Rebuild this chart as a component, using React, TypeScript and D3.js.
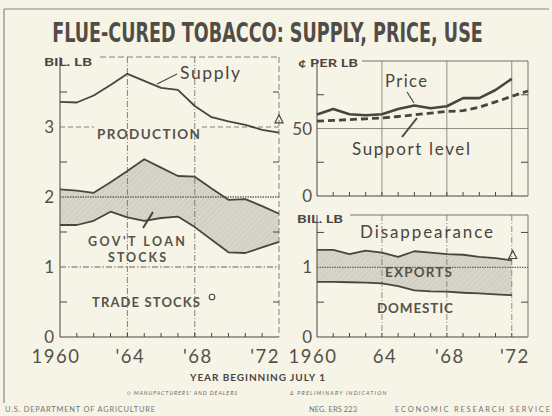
import React, { useLayoutEffect, useRef, useState } from 'react';
import * as d3 from 'd3';

// ---- data ----
const years = [1960, 1961, 1962, 1963, 1964, 1965, 1966, 1967, 1968, 1969, 1970, 1971, 1972, 1973];
const supply = [3.36, 3.35, 3.45, 3.6, 3.76, 3.66, 3.56, 3.53, 3.3, 3.14, 3.08, 3.03, 2.96, 2.92];
const totalStocks = [2.11, 2.09, 2.06, 2.21, 2.37, 2.54, 2.42, 2.3, 2.29, 2.12, 1.96, 1.97, 1.87, 1.76];
const tradeStocks = [1.6, 1.6, 1.66, 1.79, 1.71, 1.66, 1.7, 1.72, 1.57, 1.39, 1.21, 1.2, 1.28, 1.36];

const priceYears = [1960, 1961, 1962, 1963, 1964, 1965, 1966, 1967, 1968, 1969, 1970, 1971, 1972];
const price = [60.4, 64.5, 60.5, 59.8, 60.5, 64.5, 67, 65, 66.5, 72.5, 72.5, 78.5, 86.8];
const support = [55.4, 56, 56.6, 57.2, 57.8, 58.9, 60.1, 61.4, 62.6, 63.2, 65.8, 69.7, 73.8, 77.8];

const disappearance = [1.25, 1.25, 1.19, 1.24, 1.21, 1.15, 1.23, 1.21, 1.19, 1.18, 1.15, 1.13, 1.1];
const domestic = [0.79, 0.79, 0.785, 0.78, 0.77, 0.73, 0.67, 0.655, 0.65, 0.635, 0.625, 0.61, 0.6];

const leftYTicks = [0, 1, 2, 3];
const leftYMinor = [0.5, 1.5, 2.5, 3.5];
const priceYTicks = [0, 50];
const priceYMinor = [25, 75];
const useYTicks = [0, 1];
const useYMinor = [0.5, 1.5];
const gridYears = [1964, 1968, 1972];
const labelYears = [1960, 1964, 1968, 1972];
const leftXLabels = ['1960', "'64", "'68", "'72"];
const rightXLabels = ['1960', '64', "'68", "'72"];
const minorYears = [1961, 1962, 1963, 1964, 1965, 1966, 1967, 1968, 1969, 1970, 1971, 1972];

const TITLE = 'FLUE-CURED TOBACCO: SUPPLY, PRICE, USE';
const INK = '#4a4440';
const GRID = '#77726c';
const FONT = "Lato, 'Open Sans', 'DejaVu Sans', sans-serif";

export default function App() {
  const titleRef = useRef<SVGTextElement>(null);
  const [titleScale, setTitleScale] = useState(1);
  useLayoutEffect(() => {
    if (titleRef.current) {
      const w = titleRef.current.getComputedTextLength();
      if (w > 0) setTitleScale(431 / w);
    }
  }, []);

  const xL = d3.scaleLinear().domain([1960, 1973]).range([60, 279]);
  const yL = d3.scaleLinear().domain([0, 4]).range([337, 57]);
  const xR = d3.scaleLinear().domain([1960, 1973]).range([317, 528]);
  const yP = d3.scaleLinear().domain([0, 100]).range([196, 61]);
  const yD = d3.scaleLinear().domain([0, 1.75]).range([337, 215]);

  const supplyLine = d3.line<number>().x((_, i) => xL(years[i])).y(d => yL(d))(supply) || '';
  const totalLine = d3.line<number>().x((_, i) => xL(years[i])).y(d => yL(d))(totalStocks) || '';
  const tradeLine = d3.line<number>().x((_, i) => xL(years[i])).y(d => yL(d))(tradeStocks) || '';
  const loanArea = d3.area<number>()
    .x((_, i) => xL(years[i]))
    .y0((_, i) => yL(tradeStocks[i]))
    .y1(d => yL(d))(totalStocks) || '';

  const priceLine = d3.line<number>().x((_, i) => xR(priceYears[i])).y(d => yP(d))(price) || '';
  const supportLine = d3.line<number>().x((_, i) => xR(years[i])).y(d => yP(d))(support) || '';

  const disLine = d3.line<number>().x((_, i) => xR(priceYears[i])).y(d => yD(d))(disappearance) || '';
  const domLine = d3.line<number>().x((_, i) => xR(priceYears[i])).y(d => yD(d))(domestic) || '';
  const exportArea = d3.area<number>()
    .x((_, i) => xR(priceYears[i]))
    .y0((_, i) => yD(domestic[i]))
    .y1(d => yD(d))(disappearance) || '';

  const lastSupplyX = xL(years[years.length - 1]);
  const lastSupplyY = yL(supply[supply.length - 1]);
  const lastDisX = xR(priceYears[priceYears.length - 1]);
  const lastDisY = yD(disappearance[disappearance.length - 1]);

  const tri = (cx: number, cy: number, s: number) =>
    `M${cx},${cy - s * 0.6} L${cx + s / 2},${cy + s * 0.4} L${cx - s / 2},${cy + s * 0.4} Z`;

  const labelDx = (l: string) => (l === '1960' ? -4 : 3);

  return (
    <svg width={552} height={416} style={{ position: 'absolute', left: 0, top: 0, display: 'block' }}
      fontFamily={FONT}>
      <defs>
        <pattern id="hatch" width="4" height="4" patternUnits="userSpaceOnUse" patternTransform="rotate(45)">
          <rect width="4" height="4" fill="#d7d5ca" />
          <line x1="0" y1="0" x2="0" y2="4" stroke="#c6c3b7" strokeWidth="1" />
        </pattern>
      </defs>
      <rect x={0} y={0} width={552} height={416} fill="#f6f4e6" />
      {/* outer border */}
      <line x1={4} y1={9} x2={549} y2={9} stroke="#8a857e" strokeWidth={1} />
      <line x1={4} y1={9} x2={4} y2={403} stroke="#8a857e" strokeWidth={1.2} />

      {/* title */}
      <g transform={`translate(267.5,42) scale(${titleScale},1)`}>
        <text ref={titleRef} x={0} y={0} textAnchor="middle" fontSize={26} fontWeight="bold"
          fontFamily="'Liberation Sans Narrow', 'DejaVu Sans Condensed', 'Roboto Condensed', sans-serif"
          fill="#524c47">
          {TITLE}
        </text>
      </g>

      {/* ================= LEFT PANEL ================= */}
      <path d={loanArea} fill="url(#hatch)" stroke="none" />
      <line x1={xL(1960)} y1={57} x2={xL(1960)} y2={337} stroke={INK} strokeWidth={1} />
      <line x1={xL(1960)} y1={337} x2={279} y2={337} stroke={INK} strokeWidth={1.1} />
      <line x1={279} y1={57} x2={279} y2={337} stroke={GRID} strokeWidth={0.9} strokeDasharray="6,3" />
      <line x1={100} y1={57} x2={279} y2={57} stroke={GRID} strokeWidth={0.9} strokeDasharray="6,3" />
      {gridYears.filter(y => y < 1972).map(y => (
        <line key={'lg' + y} x1={xL(y)} y1={57} x2={xL(y)} y2={337} stroke={GRID} strokeWidth={0.9} strokeDasharray="6,2,1,2" />
      ))}
      <line x1={xL(1960)} y1={yL(3)} x2={94} y2={yL(3)} stroke={GRID} strokeWidth={0.9} strokeDasharray="5,3" />
      <line x1={202} y1={yL(3)} x2={279} y2={yL(3)} stroke={GRID} strokeWidth={0.9} strokeDasharray="5,3" />
      <line x1={xL(1960)} y1={yL(2)} x2={279} y2={yL(2)} stroke="#6b655f" strokeWidth={1.3} strokeDasharray="1.5,1" />
      <line x1={xL(1960)} y1={yL(1)} x2={279} y2={yL(1)} stroke="#6b655f" strokeWidth={1} strokeDasharray="6,2,1.5,2" />
      {leftYMinor.map(v => (
        <g key={'lm' + v}>
          <line x1={xL(1960)} y1={yL(v)} x2={xL(1960) + 7} y2={yL(v)} stroke={INK} strokeWidth={1} />
          <line x1={279} y1={yL(v)} x2={273} y2={yL(v)} stroke={INK} strokeWidth={1} />
        </g>
      ))}
      {minorYears.map(y => (
        <line key={'lx' + y} x1={xL(y)} y1={337} x2={xL(y)} y2={333} stroke={INK} strokeWidth={1} />
      ))}
      {leftYTicks.map(v => (
        <text key={'ly' + v} x={54} y={yL(v) + 6} textAnchor="end" fontSize={17} fill="#55504b">{v}</text>
      ))}
      <text x={44} y={66} fontSize={11.5} fontWeight="bold" fill={INK} textLength={48} lengthAdjust="spacingAndGlyphs">BIL. LB</text>

      <path d={supplyLine} fill="none" stroke={INK} strokeWidth={1.8} strokeLinejoin="round" />
      <path d={totalLine} fill="none" stroke={INK} strokeWidth={1.8} strokeLinejoin="round" />
      <path d={tradeLine} fill="none" stroke={INK} strokeWidth={1.8} strokeLinejoin="round" />
      <path d={tri(lastSupplyX, lastSupplyY - 13, 8)} fill="none" stroke={INK} strokeWidth={1.2} />

      <text x={180} y={79} fontSize={17.5} fill={INK} textLength={60} lengthAdjust="spacing">Supply</text>
      <line x1={157} y1={84} x2={177} y2={74} stroke={INK} strokeWidth={1.2} />
      <text x={97} y={139} fontSize={13.5} fontWeight="bold" fill="#57524c" textLength={103} lengthAdjust="spacing">PRODUCTION</text>
      <line x1={143} y1={228} x2={153} y2={212} stroke={INK} strokeWidth={2} />
      <text x={88} y={246} fontSize={12.5} fontWeight="bold" fill="#57524c" textLength={97} lengthAdjust="spacing">GOV'T LOAN</text>
      <text x={108} y={262} fontSize={12.5} fontWeight="bold" fill="#57524c" textLength={58} lengthAdjust="spacing">STOCKS</text>
      <text x={92} y={307} fontSize={13} fontWeight="bold" fill="#57524c" textLength={108} lengthAdjust="spacing">TRADE STOCKS</text>
      <circle cx={212} cy={297} r={2.8} fill="none" stroke={INK} strokeWidth={1.1} />

      {leftXLabels.map((l, i) => (
        <text key={'lxl' + i} x={xL(labelYears[i]) + labelDx(l)} y={363} textAnchor="middle" fontSize={18.5}
          fill="#55504b" letterSpacing={1.5}>{l}</text>
      ))}

      {/* ================= RIGHT TOP PANEL ================= */}
      <line x1={317} y1={61} x2={317} y2={196} stroke={INK} strokeWidth={1} />
      <line x1={317} y1={196} x2={528} y2={196} stroke={INK} strokeWidth={1.1} />
      <line x1={528} y1={61} x2={528} y2={196} stroke={GRID} strokeWidth={1} />
      <line x1={362} y1={61} x2={528} y2={61} stroke={GRID} strokeWidth={1} />
      {gridYears.map(y => (
        <line key={'pg' + y} x1={xR(y)} y1={61} x2={xR(y)} y2={196} stroke={GRID} strokeWidth={0.8} />
      ))}
      <line x1={317} y1={yP(50)} x2={528} y2={yP(50)} stroke={GRID} strokeWidth={0.8} />
      {priceYMinor.map(v => (
        <g key={'pm' + v}>
          <line x1={317} y1={yP(v)} x2={324} y2={yP(v)} stroke={INK} strokeWidth={1} />
          <line x1={528} y1={yP(v)} x2={521} y2={yP(v)} stroke={INK} strokeWidth={1} />
        </g>
      ))}
      {minorYears.map(y => (
        <line key={'px' + y} x1={xR(y)} y1={196} x2={xR(y)} y2={192} stroke={INK} strokeWidth={1} />
      ))}
      {priceYTicks.map(v => (
        <text key={'py' + v} x={312} y={yP(v) + 6} textAnchor="end" fontSize={17} fill="#55504b">{v}</text>
      ))}
      <text x={298} y={67} fontSize={11.5} fontWeight="bold" fill={INK} textLength={60} lengthAdjust="spacingAndGlyphs">¢ PER LB</text>

      <path d={supportLine} fill="none" stroke={INK} strokeWidth={2.8} strokeDasharray="7,4" />
      <path d={priceLine} fill="none" stroke={INK} strokeWidth={2.6} strokeLinejoin="round" />
      <text x={385} y={87} fontSize={16.5} fill={INK} textLength={42} lengthAdjust="spacing">Price</text>
      <line x1={407} y1={92} x2={414} y2={103} stroke={INK} strokeWidth={1.2} />
      <text x={352} y={155} fontSize={17} fill={INK} textLength={118} lengthAdjust="spacing">Support level</text>
      <line x1={402} y1={137} x2={417} y2={118} stroke={INK} strokeWidth={2} />

      {/* ================= RIGHT BOTTOM PANEL ================= */}
      <path d={exportArea} fill="url(#hatch)" stroke="none" />
      <line x1={317} y1={215} x2={317} y2={337} stroke={INK} strokeWidth={1} />
      <line x1={317} y1={337} x2={528} y2={337} stroke={INK} strokeWidth={1.1} />
      <line x1={528} y1={215} x2={528} y2={337} stroke={GRID} strokeWidth={1} />
      <line x1={350} y1={215} x2={528} y2={215} stroke={GRID} strokeWidth={1} />
      {gridYears.map(y => (
        <line key={'dg' + y} x1={xR(y)} y1={215} x2={xR(y)} y2={337} stroke={GRID} strokeWidth={0.8} strokeDasharray="6,2,1,2" />
      ))}
      <line x1={317} y1={yD(1)} x2={528} y2={yD(1)} stroke="#6b655f" strokeWidth={1.2} strokeDasharray="1.5,1" />
      {useYMinor.map(v => (
        <g key={'dm' + v}>
          <line x1={317} y1={yD(v)} x2={324} y2={yD(v)} stroke={INK} strokeWidth={1} />
          <line x1={528} y1={yD(v)} x2={521} y2={yD(v)} stroke={INK} strokeWidth={1} />
        </g>
      ))}
      {minorYears.map(y => (
        <line key={'dx' + y} x1={xR(y)} y1={337} x2={xR(y)} y2={333} stroke={INK} strokeWidth={1} />
      ))}
      {useYTicks.map(v => (
        <text key={'dy' + v} x={312} y={yD(v) + 6} textAnchor="end" fontSize={17} fill="#55504b">{v}</text>
      ))}
      <text x={297} y={223} fontSize={11.5} fontWeight="bold" fill={INK} textLength={46} lengthAdjust="spacingAndGlyphs">BIL. LB</text>

      <path d={disLine} fill="none" stroke={INK} strokeWidth={1.8} strokeLinejoin="round" />
      <path d={domLine} fill="none" stroke={INK} strokeWidth={1.8} strokeLinejoin="round" />
      <path d={tri(lastDisX + 1, lastDisY - 5, 8)} fill="none" stroke={INK} strokeWidth={1.2} />
      <text x={360} y={238} fontSize={17} fill={INK} textLength={133} lengthAdjust="spacing">Disappearance</text>
      <text x={385} y={277} fontSize={13.5} fontWeight="bold" fill="#57524c" textLength={67} lengthAdjust="spacing">EXPORTS</text>
      <text x={377} y={313} fontSize={13.5} fontWeight="bold" fill="#57524c" textLength={76} lengthAdjust="spacing">DOMESTIC</text>

      {rightXLabels.map((l, i) => (
        <text key={'rxl' + i} x={xR(labelYears[i]) + labelDx(l)} y={363} textAnchor="middle" fontSize={18.5}
          fill="#55504b" letterSpacing={1.5}>{l}</text>
      ))}

      {/* ================= FOOTER ================= */}
      <text x={190} y={381} fontSize={10} fontWeight="bold" fill={INK} textLength={135} lengthAdjust="spacing">YEAR BEGINNING JULY 1</text>
      <text x={127} y={395} fontSize={5.5} fontStyle="italic" fill="#6d6862" letterSpacing={0.9}>○ MANUFACTURERS' AND DEALERS</text>
      <text x={290} y={395} fontSize={5.5} fontStyle="italic" fill="#6d6862" letterSpacing={1.2}>Δ PRELIMINARY INDICATION</text>
      <text x={5} y={412} fontSize={7.5} fill="#7a756f" textLength={150} lengthAdjust="spacing">U.S. DEPARTMENT OF AGRICULTURE</text>
      <text x={309} y={412} fontSize={7.5} fill="#7a756f" textLength={48} lengthAdjust="spacing">NEG. ERS 223</text>
      <text x={395} y={412} fontSize={7.5} fill="#7a756f" textLength={155} lengthAdjust="spacing">ECONOMIC RESEARCH SERVICE</text>
    </svg>
  );
}
